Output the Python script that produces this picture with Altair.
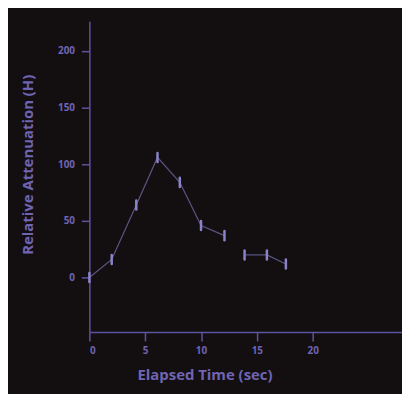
import altair as alt
import pandas as pd

time_sec = [0, 2, 4.2, 6.1, 8.1, 10, 12.1, 13.9, 15.9, 17.6]
attenuation = [0, 16, 64, 106, 84, 46, 37, 20, 20, 12]
error = [4, 4, 4, 4, 4, 4, 4, 4, 4, 4]
segment = [0, 0, 0, 0, 0, 0, 0, 1, 1, 1]

x_ticks = [0, 5, 10, 15, 20]
y_ticks = [0, 50, 100, 150, 200]

df = pd.DataFrame({"t": time_sec, "a": attenuation, "e": error, "s": segment})

TEXT = "#6f64b4"
AXIS = "#5c549c"
FONT = "Open Sans"

xs = alt.Scale(domain=[0, 28], nice=False, zero=False)
ys = alt.Scale(domain=[-48, 226], nice=False, zero=False)

xax = alt.Axis(values=x_ticks, grid=False, domainColor=AXIS, domainWidth=1.5,
               tickColor=AXIS, tickWidth=1.5, tickSize=9, labelColor=TEXT,
               labelFont=FONT, labelFontWeight="bold", labelFontSize=10, labelPadding=5,
               title="Elapsed Time (sec)", titleColor=TEXT, titleFont=FONT,
               titleFontWeight="bold", titleFontSize=15, titleX=116, titleY=43,
               titleAlign="center", titleBaseline="middle")
yax = alt.Axis(values=y_ticks, grid=False, domainColor=AXIS, domainWidth=1.5,
               tickColor=AXIS, tickWidth=1.5, tickSize=8, labelColor=TEXT,
               labelFont=FONT, labelFontWeight="bold", labelFontSize=10, labelPadding=7,
               title="Relative Attenuation (H)", titleColor=TEXT, titleFont=FONT,
               titleFontWeight="bold", titleFontSize=15, titleX=-62, titleY=144,
               titleAngle=-90, titleAlign="center", titleBaseline="middle")

base = alt.Chart(df)

line = base.mark_line(color="#5a5584", strokeWidth=1.2).encode(
    x=alt.X("t:Q", scale=xs, axis=xax),
    y=alt.Y("a:Q", scale=ys, axis=yax),
    detail="s:N",
)

bars = base.transform_calculate(
    lo="datum.a - datum.e", hi="datum.a + datum.e"
).mark_rule(color="#8a83c8", strokeWidth=2.5, strokeCap="round").encode(
    x=alt.X("t:Q", scale=xs),
    y=alt.Y("lo:Q", scale=ys),
    y2="hi:Q",
)

chart = alt.layer(line, bars).properties(
    width=315, height=313,
    autosize=alt.AutoSizeParams(type="none"),
    padding={"left": 82, "top": 12, "right": 0, "bottom": 61},
    background="#130f10",
).configure_view(stroke=None)

chart.save("out.html", embed_options={"renderer": "svg", "actions": False})
